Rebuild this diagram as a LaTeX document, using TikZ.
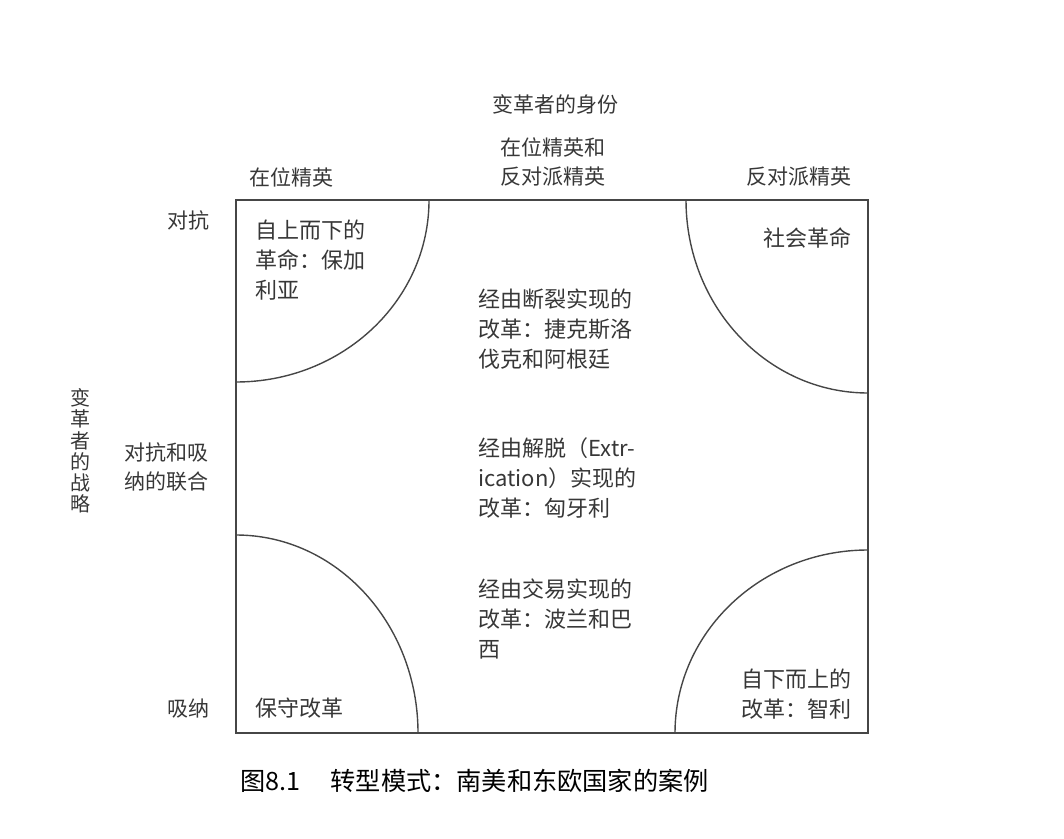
\documentclass[tikz,border=0pt]{standalone}
\usepackage{xcolor}
\usepackage{tikz}
\usepackage{fontspec}
\setmainfont{Noto Sans CJK SC}
\usetikzlibrary{positioning, calc}
\definecolor{framegray}{RGB}{70, 70, 70}
\definecolor{textgray}{RGB}{55, 55, 55}
\tikzset{
  celltext/.style={text=textgray, inner sep=0pt, font=\fontsize{11}{15}\selectfont},
  axistext/.style={text=textgray, inner sep=0pt, align=center, font=\fontsize{10.5}{14.5}\selectfont},
  quadarc/.style={draw=framegray, line width=0.7pt}
}

\begin{document}
\begin{tikzpicture}[x=0.5pt, y=-0.5pt]
            \useasboundingbox (0,0) rectangle (1064,839);
            % quarter arcs in the four corners
            \draw[quadarc] (236,382) arc[start angle=90, end angle=0, x radius=193, y radius=182];
            \draw[quadarc] (686,200) arc[start angle=180, end angle=90, x radius=182, y radius=193];
            \draw[quadarc] (236,535) arc[start angle=-90, end angle=0, x radius=182, y radius=198];
            \draw[quadarc] (675,733) arc[start angle=180, end angle=270, x radius=193, y radius=183];
            \draw[draw=framegray, line width=0.9pt] (236,200) rectangle (868,733);

            % column heads
            \node[axistext] (identity) at (555,105) {变革者的身份};
            \node[axistext] (incumbent) at (291,177) {在位精英};
            \node[axistext] (mixed) at (553,162) {在位精英和\\反对派精英};
            \node[axistext] (opposition) at (799,177) {反对派精英};

            % row heads
            \node[axistext] (confront) at (188,221) {对抗};
            \node[axistext] (combine) at (166,467) {对抗和吸\\纳的联合};
            \node[axistext] (absorb) at (188,709) {吸纳};
            \node[axistext, font=\fontsize{10}{10.6}\selectfont] (strategy) at (80,451) {变\\革\\者\\的\\战\\略};

            % cells
            \node[celltext, align=left, anchor=north west] (topdown) at (255,220) {自上而下的\\革命：保加\\利亚};
            \node[celltext, anchor=north east] (socialrev) at (852,227) {社会革命};
            \node[celltext, align=left, anchor=north west] (rupture) at (478,288) {经由断裂实现的\\改革：捷克斯洛\\伐克和阿根廷};
            \node[celltext, align=left, anchor=north west] (extrication) at (478,437) {经由解脱（Extr-\\ication）实现的\\改革：匈牙利};
            \node[celltext, align=left, anchor=north west] (transaction) at (478,578) {经由交易实现的\\改革：波兰和巴\\西};
            \node[celltext, anchor=north west] (conservative) at (255,698) {保守改革};
            \node[celltext, align=right, anchor=north east] (bottomup) at (852,669) {自下而上的\\改革：智利};

            % caption
            \node[inner sep=0pt, anchor=west, font=\fontsize{12.6}{15}\selectfont] (caption) at (240,781) {图8.1\hspace{1.2em}转型模式：南美和东欧国家的案例};
        \end{tikzpicture}
\end{document}
